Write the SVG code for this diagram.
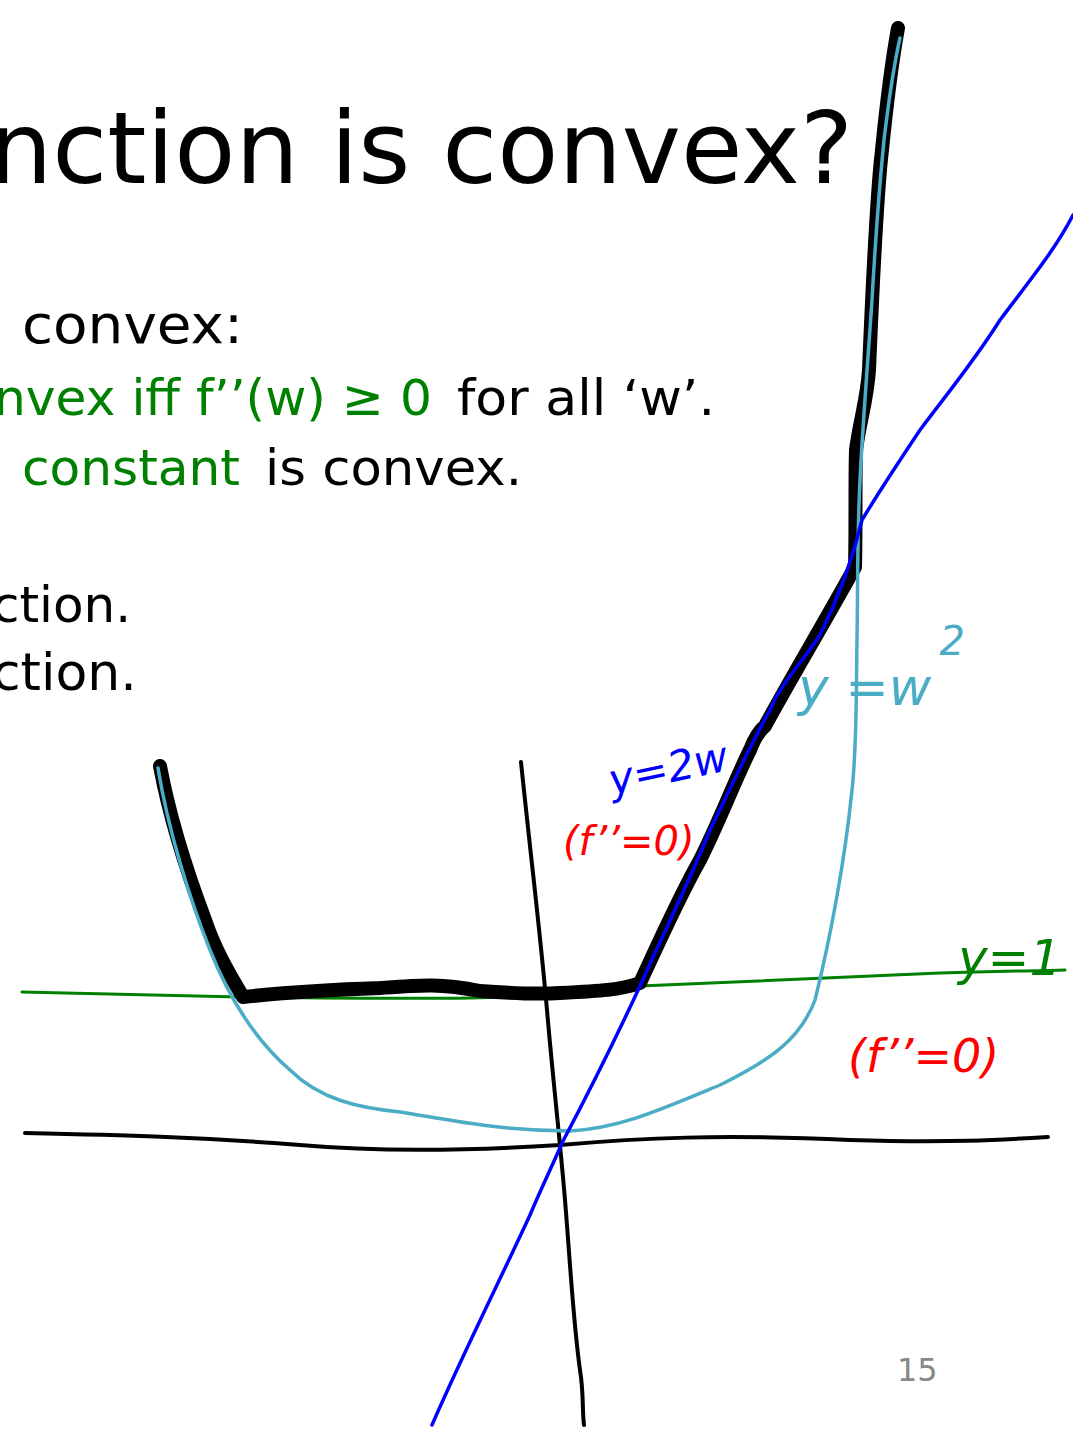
<svg xmlns="http://www.w3.org/2000/svg" width="1073" height="1430" viewBox="0 0 1073 1430">
<style>
.t{font-family:"DejaVu Sans","Liberation Sans",sans-serif;fill:#000}
.g{fill:#008000}
.hw{font-family:"DejaVu Sans","Liberation Sans",sans-serif;font-style:italic}
.ink{fill:none;stroke-linecap:round;stroke-linejoin:round}
</style>
<rect width="1073" height="1430" fill="#fff"/>
<g id="text">
<text class="t" x="853" y="183" font-size="100" text-anchor="end">nction is convex?</text>
<text class="t" x="22" y="343" font-size="54" textLength="221" lengthAdjust="spacingAndGlyphs">convex:</text>
<text class="t g" x="-6" y="415" font-size="50" textLength="438" lengthAdjust="spacingAndGlyphs">nvex iff f’’(w) ≥ 0</text>
<text class="t" x="457" y="415" font-size="50" textLength="258" lengthAdjust="spacingAndGlyphs">for all ‘w’.</text>
<text class="t g" x="22" y="485" font-size="50" textLength="218" lengthAdjust="spacingAndGlyphs">constant</text>
<text class="t" x="265" y="485" font-size="50" textLength="257" lengthAdjust="spacingAndGlyphs">is convex.</text>
<text class="t" x="-8" y="622" font-size="50">ction.</text>
<text class="t" x="-8" y="690" font-size="52">ction.</text>
<text x="897" y="1381" font-family="DejaVu Sans, sans-serif" font-size="32" fill="#888">15</text>
</g>
<g id="axes" class="ink" stroke="#000" stroke-width="4">
<path d="M25,1133 C120,1135 200,1137 300,1145 C380,1152 480,1150 560,1145 C640,1138 720,1134 850,1140 C950,1143 1000,1140 1048,1137"/>
<path d="M521,762 C530,850 540,930 547,1010 C553,1080 560,1140 565,1200 C570,1260 573,1320 580,1370 C584,1395 582,1410 584,1425"/>
</g>
<g id="line-y1" class="ink" stroke="#008000" stroke-width="3">
<path d="M22,992 C100,994 180,996 240,997 C320,998 400,999 470,998 C540,997 590,990 640,986 C760,980 860,976 940,973 C1000,971 1040,971 1065,970"/>
</g>
<g id="curve-f" class="ink" stroke="#000" stroke-width="14">
<path d="M160,766 C170,820 190,880 205,920 C215,950 230,975 243,997 C280,993 320,990 380,988 C420,985 440,983 480,991 C520,994 545,994 560,993 C600,991 620,990 640,983 C660,940 680,895 700,860 C720,820 735,780 750,750 C755,737 760,730 765,726 C790,680 820,630 855,567 C856,530 855,480 856,450 C860,420 867,400 869,370 C872,300 876,200 882,150 C888,90 894,50 898,28"/>
</g>
<g id="curve-w2" class="ink" stroke="#4bacc6" stroke-width="3.5">
<path d="M158,768 C168,830 190,900 210,950 C230,1000 255,1040 290,1070 C320,1100 360,1108 400,1112 C450,1120 500,1131 570,1131 C620,1128 660,1110 720,1085 C770,1060 800,1040 815,1000 C830,940 845,860 852,790 C857,745 856,700 857,640 C858,580 857,540 860,480 C863,420 868,360 872,300 C876,230 880,180 884,140 C890,90 895,60 900,38"/>
</g>
<g id="line-2w" class="ink" stroke="#0000ff" stroke-width="3.5">
<path d="M432,1425 C460,1360 500,1280 530,1215 C545,1180 555,1160 562,1143 C590,1090 615,1040 640,986 C665,930 690,880 710,830 C730,790 745,755 770,710 C780,685 800,665 820,635 C835,605 850,570 862,520 C880,490 900,460 920,430 C950,390 975,360 1000,320 C1030,280 1055,250 1073,215"/>
</g>
<g id="labels">
<text class="hw" x="612" y="795" font-size="42" fill="#0000ff" transform="rotate(-12 612 795)">y=2w</text>
<text class="hw" x="563" y="855" font-size="40" fill="#ff0000">(f’’=0)</text>
<text class="hw" x="798" y="705" font-size="52" fill="#4bacc6">y =w<tspan dx="8" dy="-50" font-size="40">2</tspan></text>
<text class="hw" x="958" y="975" font-size="50" fill="#008000">y=1</text>
<text class="hw" x="848" y="1072" font-size="46" fill="#ff0000">(f’’=0)</text>
</g>
</svg>
